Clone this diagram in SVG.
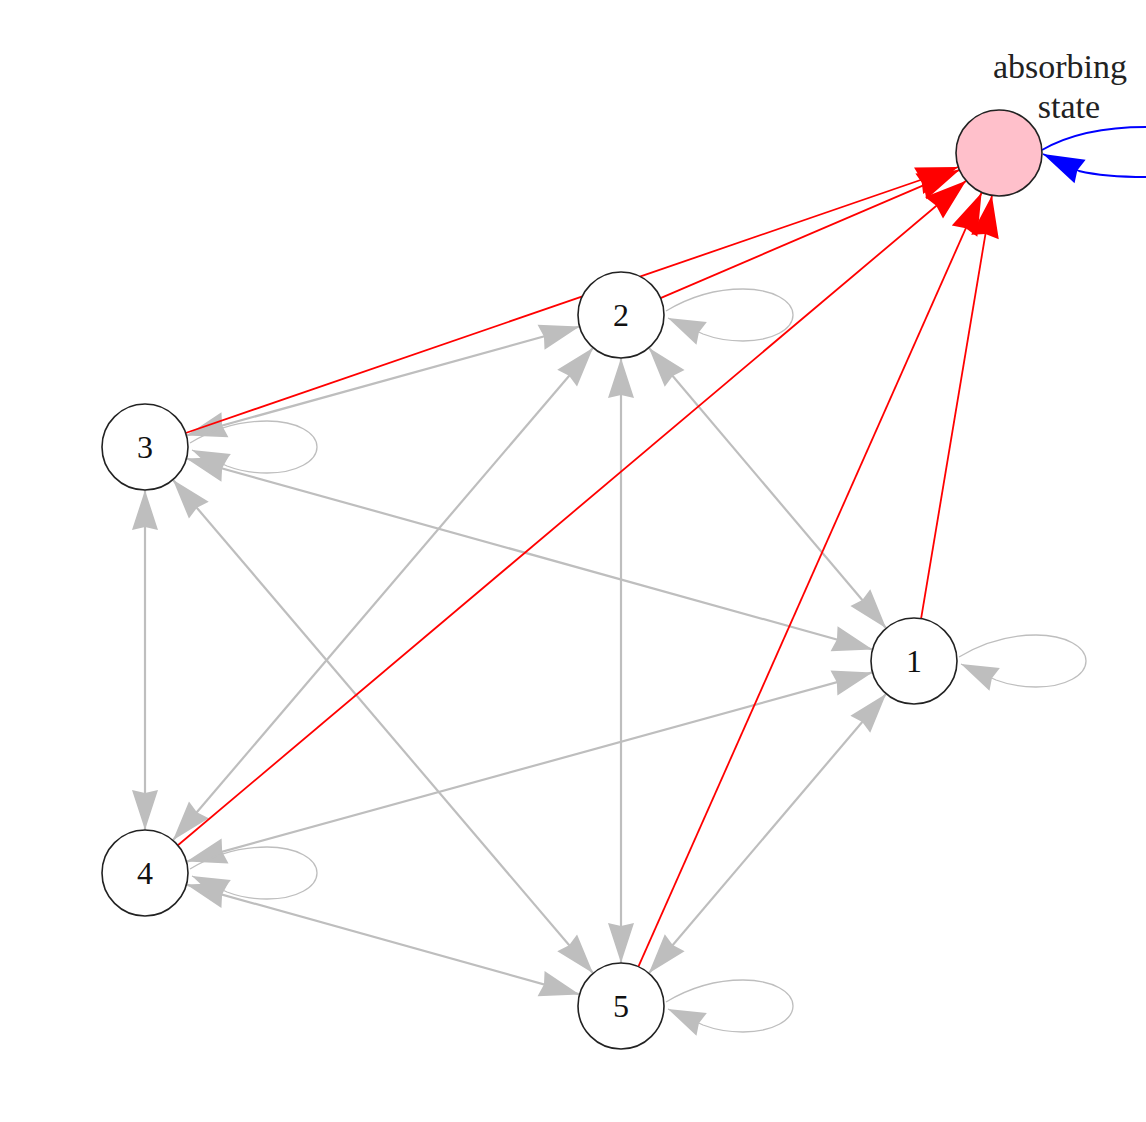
<svg xmlns="http://www.w3.org/2000/svg" xmlns:xlink="http://www.w3.org/1999/xlink" width="1146" height="1122" viewBox="0 0 1146 1122">
<style>
.g{stroke:#BEBEBE;stroke-width:2.2;fill:none;marker-start:url(#ag);marker-end:url(#ag)}
.lp{stroke:#BEBEBE;stroke-width:1.3;fill:none;marker-end:url(#al)}
.r{stroke:#FF0000;stroke-width:1.8;fill:none;marker-end:url(#ar)}
.node circle{stroke:#222;stroke-width:1.6;fill:#FFFFFF}
.node text{font-family:"Liberation Serif","Times New Roman",serif;font-size:32px;fill:#111;text-anchor:middle}
.lbl{font-family:"Liberation Serif","Times New Roman",serif;font-size:34px;fill:#222;text-anchor:middle}
</style>
<defs>
<marker id="ag" markerUnits="userSpaceOnUse" orient="auto-start-reverse" overflow="visible" refX="0" refY="0" markerWidth="1" markerHeight="1"><path d="M0,0 L-40,-13 L-37,0 L-40,13 Z" fill="#BEBEBE"/></marker>
<marker id="al" markerUnits="userSpaceOnUse" orient="auto" overflow="visible" refX="0" refY="0" markerWidth="1" markerHeight="1"><path d="M0,0 L-37,-12.5 L-34,0 L-37,12.5 Z" fill="#BEBEBE"/></marker>
<marker id="ar" markerUnits="userSpaceOnUse" orient="auto" overflow="visible" refX="0" refY="0" markerWidth="1" markerHeight="1"><path d="M0,0 L-42,-14 L-39,0 L-42,14 Z" fill="#FF0000"/></marker>
<marker id="ab" markerUnits="userSpaceOnUse" orient="auto" overflow="visible" refX="0" refY="0" markerWidth="1" markerHeight="1"><path d="M0,0 L-41,-13 L-38,0 L-41,13 Z" fill="#0000FF"/></marker>
<path id="loop" d="M45,-4 C75,-22 100,-26 122,-26 C152,-26 172,-14 172,0 C172,14 152,26 122,26 C108,26 95,24 82,19 L47,3"/>
</defs>
<rect width="1146" height="1122" fill="#FFFFFF"/>
<g id="connectors">
<path class="g" d="M186.4,435.5 L579.6,326.5"/>
<path class="g" d="M186.4,458.5 L872.6,649.5"/>
<path class="g" d="M145,490 L145,830"/>
<path class="g" d="M172.9,479.7 L593.1,973.3"/>
<path class="g" d="M593.1,347.7 L172.9,840.3"/>
<path class="g" d="M621,358 L621,963"/>
<path class="g" d="M648.8,347.8 L886.2,628.2"/>
<path class="g" d="M186.5,861.6 L872.5,672.4"/>
<path class="g" d="M186.4,884.6 L579.6,994.4"/>
<path class="g" d="M886.2,693.8 L648.8,973.2"/>
<use href="#loop" class="lp" x="914" y="661"/>
<use href="#loop" class="lp" x="621" y="315"/>
<use href="#loop" class="lp" x="145" y="447"/>
<use href="#loop" class="lp" x="145" y="873"/>
<use href="#loop" class="lp" x="621" y="1006"/>
<path class="r" d="M185.7,433 L958.3,167"/>
<path class="r" d="M660.5,298.1 L959.5,169.9"/>
<path class="r" d="M177.9,845.3 L966.1,180.7"/>
<path class="r" d="M638.4,966.7 L981.6,192.7"/>
<path class="r" d="M921.1,618.6 L991.9,195.6"/>
<path d="M1042,150 C1068,135 1100,127 1146,127 C1190,127 1215,140 1215,153 C1215,168 1190,177 1146,177 C1120,177 1100,176 1079,171 L1043,154" stroke="#0000FF" stroke-width="1.8" fill="none" marker-end="url(#ab)"/>
</g>
<g id="node-absorbing" class="node"><circle cx="999" cy="153" r="43" style="fill:#FFC0CB"/></g>
<g id="node-1" class="node"><circle cx="914" cy="661" r="43"/><text x="914" y="672">1</text></g>
<g id="node-2" class="node"><circle cx="621" cy="315" r="43"/><text x="621" y="326">2</text></g>
<g id="node-3" class="node"><circle cx="145" cy="447" r="43"/><text x="145" y="458">3</text></g>
<g id="node-4" class="node"><circle cx="145" cy="873" r="43"/><text x="145" y="884">4</text></g>
<g id="node-5" class="node"><circle cx="621" cy="1006" r="43"/><text x="621" y="1017">5</text></g>
<g id="label-absorbing"><text class="lbl" x="1060" y="78">absorbing</text><text class="lbl" x="1069" y="118">state</text></g>
</svg>
